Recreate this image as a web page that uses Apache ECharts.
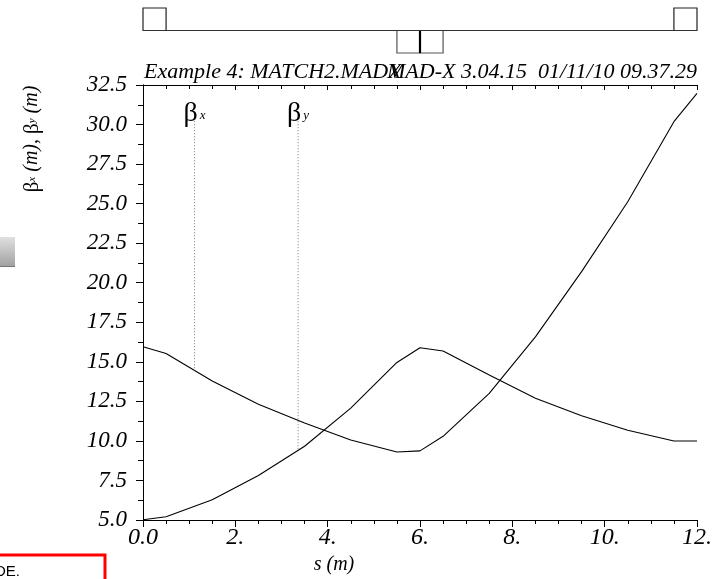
<!DOCTYPE html>
<html>
<head>
<meta charset="utf-8">
<script src="https://cdn.jsdelivr.net/npm/echarts@6/dist/echarts.min.js"></script>
<style>
html,body{margin:0;padding:0;background:#fff;}
#chart{width:726px;height:579px;}
</style>
</head>
<body>
<div id="chart"></div>
<script>
// ---- data ----
const sValues = [0, 0.5, 1.5, 2.5, 3.5, 4.5, 5.5, 6.0, 6.5, 7.5, 8.5, 9.5, 10.5, 11.5, 12.0];
const betaX = [15.95, 15.53, 13.79, 12.32, 11.13, 10.06, 9.30, 9.37, 10.29, 13.0, 16.58, 20.70, 25.12, 30.18, 31.97];
const betaY = [5.02, 5.21, 6.28, 7.81, 9.66, 12.07, 14.96, 15.89, 15.68, 14.17, 12.70, 11.59, 10.67, 9.99, 9.99];
const markerS = [1.115, 3.36];
const markerTop = [30.4, 30.4];
const markerBottom = [14.46, 9.45];
const markerSub = ['x', 'y'];
const xTickLabels = ['0.0', '2.', '4.', '6.', '8.', '10.', '12.'];
const latticeStart = [0, 5.5, 6.0, 11.5, 6.0];
const latticeEnd = [0.5, 6.0, 6.5, 12.0, 6.0];
const latticeDir = [1, -1, -1, 1, -1];
const titleLeft = 'Example 4: MATCH2.MADX';
const titleRight = 'MAD-X 3.04.15  01/11/10 09.37.29';

// ---- chart ----
const chart = echarts.init(document.getElementById('chart'), null, {renderer: 'canvas'});
const serif = '"Liberation Serif", "Times New Roman", serif';
const lineData = (ys) => sValues.map((s, i) => [s, ys[i]]);

const latticeData = latticeStart.map((s0, i) => [s0, latticeEnd[i], latticeDir[i]]);

const markerSeries = markerS.map((s, i) => ({
  type: 'line',
  xAxisIndex: 0, yAxisIndex: 0,
  symbol: 'circle',
  symbolSize: 0.01,
  showSymbol: true,
  silent: true,
  animation: false,
  itemStyle: {color: 'rgba(0,0,0,0)'},
  lineStyle: {color: '#777', width: 1, type: [1, 2]},
  data: [
    {
      value: [s, markerTop[i]],
      label: {
        show: true,
        position: 'top',
        distance: -9,
        formatter: '{b|β}{s|' + markerSub[i] + '}',
        rich: {
          b: {fontFamily: serif, fontSize: 28, color: '#000', fontStyle: 'normal'},
          s: {fontFamily: serif, fontSize: 13, fontStyle: 'italic', color: '#000', padding: [4, 0, 0, 2]}
        }
      }
    },
    [s, markerBottom[i]]
  ]
}));

const option = {
  backgroundColor: '#fff',
  animation: false,
  grid: [
    {left: 143, top: 85, width: 554, height: 435, containLabel: false},
    {left: 143, top: 8, width: 554, height: 45, containLabel: false}
  ],
  xAxis: [
    {
      type: 'value', gridIndex: 0, position: 'bottom', min: 0, max: 12, interval: 2,
      axisLine: {show: true, lineStyle: {color: '#000', width: 1}},
      axisTick: {show: true, inside: false, length: 7, lineStyle: {color: '#000'}},
      minorTick: {show: true, splitNumber: 4, length: 4, lineStyle: {color: '#000'}},
      splitLine: {show: false},
      axisLabel: {
        margin: 6, color: '#000', fontFamily: serif, fontStyle: 'italic', fontSize: 24,
        formatter: (v) => xTickLabels[Math.round(v / 2)] || ''
      }
    },
    {
      type: 'value', gridIndex: 0, position: 'top', min: 0, max: 12, interval: 2,
      axisLine: {show: true, lineStyle: {color: '#000', width: 1}},
      axisTick: {show: true, inside: true, length: 5, lineStyle: {color: '#000'}},
      minorTick: {show: true, splitNumber: 4, length: 4, lineStyle: {color: '#000'}},
      splitLine: {show: false},
      axisLabel: {show: false}
    },
    {type: 'value', gridIndex: 1, min: 0, max: 12, show: false}
  ],
  yAxis: [
    {
      type: 'value', gridIndex: 0, position: 'left', min: 5, max: 32.5, interval: 2.5,
      axisLine: {show: true, lineStyle: {color: '#000', width: 1}},
      axisTick: {show: true, inside: false, length: 7, lineStyle: {color: '#000'}},
      minorTick: {show: true, splitNumber: 2, length: 4, lineStyle: {color: '#000'}},
      splitLine: {show: false},
      axisLabel: {
        margin: 16, color: '#000', fontFamily: serif, fontStyle: 'italic', fontSize: 23,
        formatter: (v) => v.toFixed(1)
      }
    },
    {
      type: 'value', gridIndex: 0, position: 'right', min: 5, max: 32.5, interval: 2.5,
      axisLine: {show: true, lineStyle: {color: '#000', width: 1}},
      axisTick: {show: true, inside: true, length: 5, lineStyle: {color: '#000'}},
      minorTick: {show: true, splitNumber: 2, length: 5, lineStyle: {color: '#000'}},
      splitLine: {show: false},
      axisLabel: {show: false}
    },
    {type: 'value', gridIndex: 1, min: -1, max: 1, show: false}
  ],
  series: [
    {
      type: 'line', xAxisIndex: 0, yAxisIndex: 0, symbol: 'none', silent: true,
      lineStyle: {color: '#000', width: 1.1}, data: lineData(betaX)
    },
    {
      type: 'line', xAxisIndex: 0, yAxisIndex: 0, symbol: 'none', silent: true,
      lineStyle: {color: '#000', width: 1.1}, data: lineData(betaY)
    },
    ...markerSeries,
    {
      type: 'line', xAxisIndex: 2, yAxisIndex: 2, symbol: 'none', silent: true,
      lineStyle: {color: '#333', width: 1.2},
      data: [[sValues[0], 0], [sValues[sValues.length - 1], 0]]
    },
    {
      type: 'custom', xAxisIndex: 2, yAxisIndex: 2, silent: true,
      data: latticeData,
      renderItem: function (params, api) {
        const s0 = api.value(0), s1 = api.value(1), d = api.value(2);
        const p0 = api.coord([s0, 0]);
        const p1 = api.coord([s1, d]);
        if (s0 === s1) {
          return {type: 'line', shape: {x1: p0[0], y1: p0[1], x2: p1[0], y2: p1[1]},
            style: {stroke: '#000', lineWidth: 2.2}};
        }
        return {
          type: 'rect',
          shape: {x: p0[0], y: Math.min(p0[1], p1[1]), width: p1[0] - p0[0], height: Math.abs(p1[1] - p0[1])},
          style: {fill: 'none', stroke: d < 0 ? '#555' : '#222', lineWidth: 1.2}
        };
      }
    }
  ],
  graphic: [
    {
      type: 'text', left: 144, top: 61, silent: true,
      style: {text: titleLeft, fontFamily: serif, fontStyle: 'italic', fontSize: 22, fill: '#000'}
    },
    {
      type: 'text', right: 29, top: 61, silent: true,
      style: {text: titleRight, fontFamily: serif, fontStyle: 'italic', fontSize: 22, fill: '#000'}
    },
    {
      type: 'text', x: 334, y: 565, silent: true,
      style: {text: 's (m)', fontFamily: serif, fontStyle: 'italic', fontSize: 20, fill: '#000',
        align: 'center', verticalAlign: 'middle'}
    },
    {
      type: 'text', x: 32, y: 139, rotation: Math.PI / 2, silent: true,
      style: {
        text: '{b|β}{s|x}{i| (m), }{b|β}{s|y}{i| (m)}',
        align: 'center', verticalAlign: 'middle',
        rich: {
          b: {fontFamily: serif, fontSize: 21, fill: '#000'},
          s: {fontFamily: serif, fontSize: 11, fontStyle: 'italic', fill: '#000'},
          i: {fontFamily: serif, fontSize: 20, fontStyle: 'italic', fill: '#000'}
        }
      }
    },
    {
      type: 'rect', shape: {x: 0, y: 237, width: 15, height: 30}, silent: true,
      style: {
        fill: new echarts.graphic.LinearGradient(0, 0, 0, 1, [
          {offset: 0, color: '#e0e0e0'}, {offset: 1, color: '#a0a0a0'}
        ]),
        stroke: null
      }
    },
    {
      type: 'line', shape: {x1: 0, y1: 266.5, x2: 15, y2: 266.5}, silent: true,
      style: {stroke: '#777', lineWidth: 1}
    },
    {
      type: 'polyline', shape: {points: [[0, 555], [105, 555], [105, 579]]}, silent: true,
      style: {stroke: '#ff0000', lineWidth: 3, fill: null}
    },
    {
      type: 'text', x: -5, y: 572, silent: true,
      style: {text: 'DE.', fontFamily: '"Liberation Sans", Arial, sans-serif', fontSize: 15, fill: '#000',
        verticalAlign: 'middle'}
    }
  ]
};
chart.setOption(option);
</script>
</body>
</html>
